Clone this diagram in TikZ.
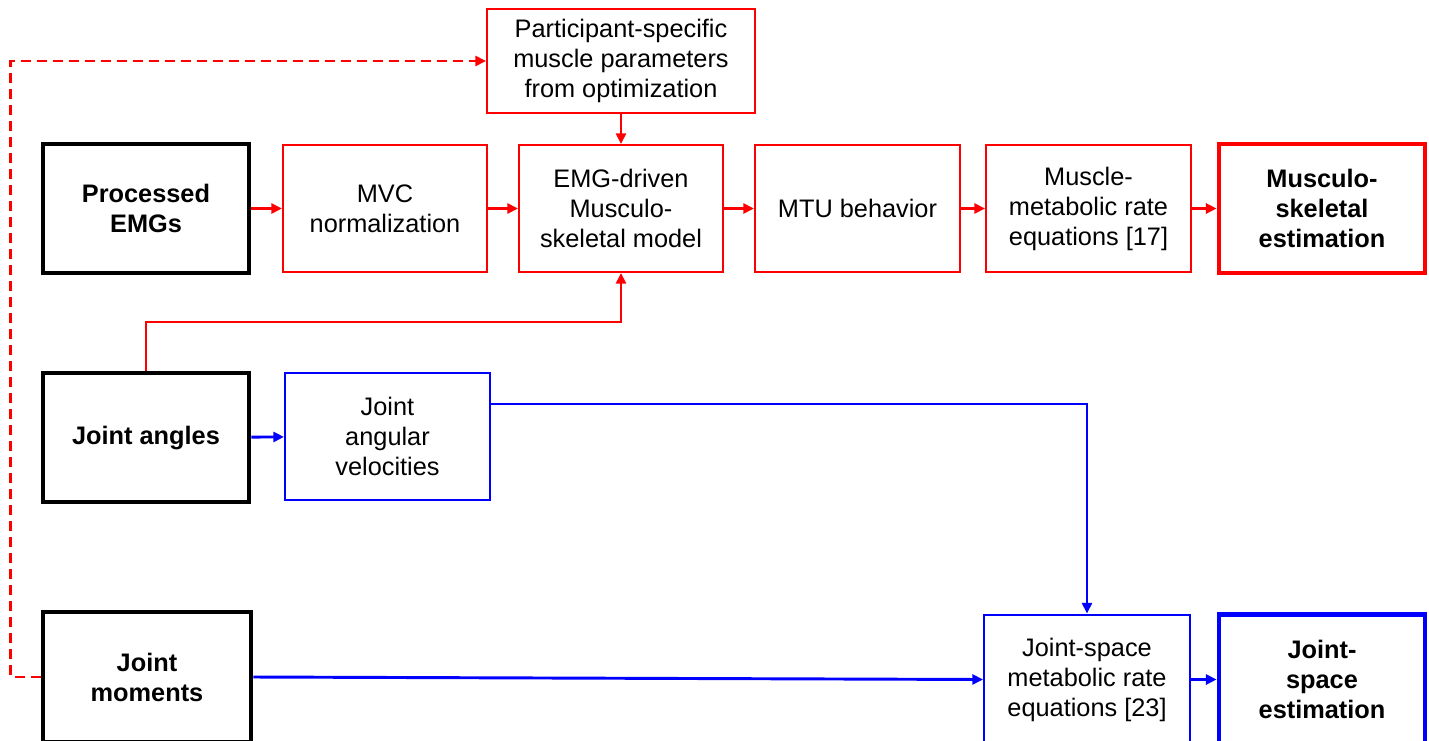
\documentclass[tikz,border=0pt]{standalone}
\usepackage{fontspec}
\setmainfont{Liberation Sans}
\usetikzlibrary{arrows.meta}
\definecolor{rd}{RGB}{255,0,0}
\definecolor{bl}{RGB}{0,0,255}
\begin{document}
\begin{tikzpicture}[x=0.75pt,y=-0.75pt,
  every node/.style={font=\fontsize{19pt}{22.5pt}\selectfont, align=center, inner sep=0pt},
  rbox/.style={draw=rd, line width=1.5pt, minimum width=#1},
  bbox/.style={draw=bl, line width=1.5pt, minimum width=#1},
  kbox/.style={draw=black, line width=3.6pt, minimum width=#1, font=\fontsize{19pt}{22.5pt}\selectfont\bfseries},
  rthick/.style={draw=rd, line width=3.6pt, minimum width=#1, font=\fontsize{19pt}{22.5pt}\selectfont\bfseries},
  bthick/.style={draw=bl, line width=3.6pt, minimum width=#1, font=\fontsize{19pt}{22.5pt}\selectfont\bfseries},
  rarr/.style={draw=rd, line width=2.2pt, -{Triangle[length=8pt,width=7.5pt]}},
  barr/.style={draw=bl, line width=2.2pt, -{Triangle[length=8pt,width=7.5pt]}},
  darr/.style={draw=rd, line width=2pt, dash pattern=on 7.5pt off 4.5pt, -{Triangle[length=8pt,width=7.5pt]}}
]
\useasboundingbox (0,0) rectangle (1429,740);
\clip (0,0) rectangle (1429,740);
% top row
\node[rbox=201pt, minimum height=78pt] (part) at (621,61) {Participant-specific\\muscle parameters\\from optimization};
\node[kbox=154.5pt, minimum height=96.75pt] (emg) at (146,208.5) {Processed\\EMGs};
\node[rbox=153pt, minimum height=95.25pt] (mvc) at (385,208.5) {MVC\\normalization};
\node[rbox=153pt, minimum height=95.25pt] (emgm) at (621,208.5) {EMG-driven\\Musculo-\\skeletal model};
\node[rbox=153.75pt, minimum height=95.25pt] (mtu) at (857.5,208.5) {MTU behavior};
\node[rbox=153.75pt, minimum height=95.25pt] (mmr) at (1088.5,208.5) {Muscle-\\metabolic rate\\equations [17]};
\node[rthick=154.5pt, minimum height=96.75pt] (mse) at (1322,208.5) {Musculo-\\skeletal\\estimation};
% middle row
\node[kbox=154.5pt, minimum height=96.75pt] (ja) at (146,437.5) {Joint angles};
\node[bbox=153.75pt, minimum height=95.25pt] (jav) at (387.5,436.5) {Joint\\angular\\velocities};
% bottom row
\node[kbox=156pt, minimum height=97.5pt] (jm) at (147,677) {Joint\\moments};
\node[bbox=154.5pt, minimum height=97.5pt] (jsm) at (1087,679.5) {Joint-space\\metabolic rate\\equations [23]};
\node[bthick=154.5pt, minimum height=97.5pt] (jse) at (1322,679.5) {Joint-\\space\\estimation};
% connectors
\draw[rarr] (emg) -- (mvc);
\draw[rarr] (mvc) -- (emgm);
\draw[rarr] (emgm) -- (mtu);
\draw[rarr] (mtu) -- (mmr);
\draw[rarr] (mmr) -- (mse);
\draw[rarr] (part) -- (emgm);
\coordinate (k1) at (621,322);
\draw[rarr] (ja.north) |- (k1) -- (emgm.south);
\draw[barr] (ja) -- (jav);
\draw[barr] ([yshift=24.4pt]jav.east) -| (jsm.north);
\draw[barr] (jm.east) -- (jsm.west);
\draw[barr] (jsm) -- (jse);
\draw[darr] (jm.west) -- ++(-30,0) |- (part.west);
\end{tikzpicture}
\end{document}
